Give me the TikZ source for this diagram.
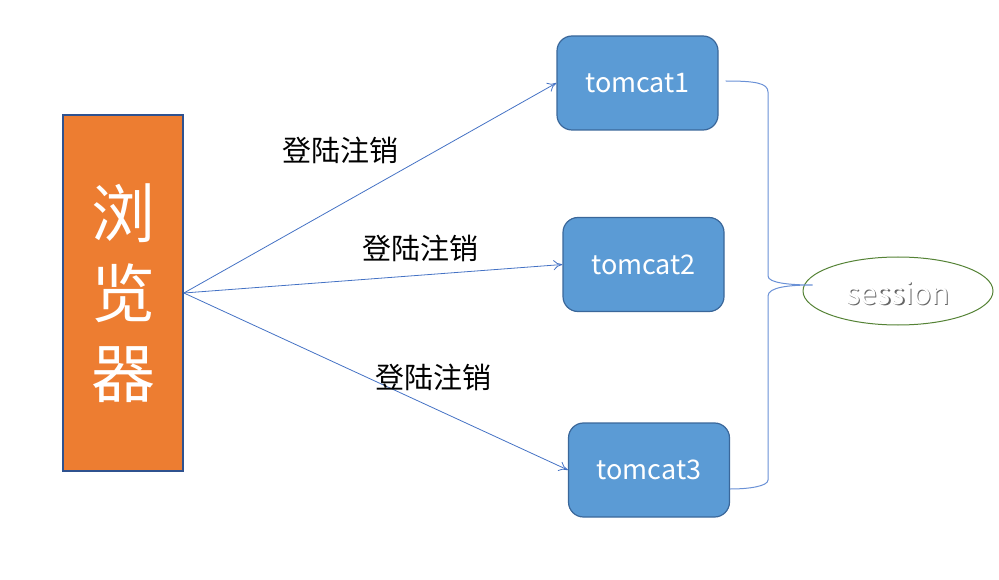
\documentclass[tikz,border=0pt]{standalone}
\usepackage{fontspec}
\setmainfont{Noto Sans CJK SC}
\usetikzlibrary{shapes.geometric, arrows.meta}

\definecolor{boxorange}{HTML}{ED7D31}
\definecolor{boxblue}{HTML}{5B9BD5}
\definecolor{edgeblue}{HTML}{3A679A}
\definecolor{darkblue}{HTML}{2F528F}
\definecolor{linkblue}{HTML}{4472C4}
\definecolor{bracketblue}{HTML}{6A91D6}
\definecolor{ringgreen}{HTML}{548235}

\tikzset{
	server/.style={draw=edgeblue, line width=1.2pt, fill=boxblue, rounded corners=15pt,
		minimum width=161pt, minimum height=94pt, text=white, font=\fontsize{27}{30}\selectfont},
	link/.style={draw=linkblue, line width=0.8pt, -{To[length=9pt,width=10pt]}},
	caption/.style={font=\fontsize{29}{32}\selectfont, text=black}
}

\begin{document}
\begin{tikzpicture}[x=1pt, y=-1pt]
	\useasboundingbox (0, 0) rectangle (999, 580);

	% browser column
	\node[draw=darkblue, line width=1.8pt, fill=boxorange, minimum width=120pt, minimum height=356pt,
		text=white, align=center, font=\fontsize{64}{80}\selectfont] (browser) at (123, 293) {浏\\览\\器};

	% servers
	\node[server] (tomcat1) at (637.5, 83) {tomcat1};
	\node[server] (tomcat2) at (643.5, 264.5) {tomcat2};
	\node[server] (tomcat3) at (649, 470) {tomcat3};

	\draw[link] (browser.east) -- (tomcat1.west);
	\draw[link] (browser.east) -- (tomcat2.west);
	\draw[link] (browser.east) -- (tomcat3.west);

	\node[caption] (login1) at (340, 150) {登陆注销};
	\node[caption] (login2) at (420, 248) {登陆注销};
	\node[caption] (login3) at (433, 377) {登陆注销};

	% shared session
	\node[draw=ringgreen, line width=1pt, ellipse, minimum width=190pt, minimum height=68pt] (store) at (898, 291) {};
	\node[text=black!60, font=\fontsize{30}{34}\selectfont] (storeshade) at (899.5, 294.5) {session};
	\node[text=white, font=\fontsize{30}{34}\selectfont] (storetext) at (898, 293) {session};

	\coordinate (tip) at ([xshift=10pt, yshift=6pt]store.west);
	\draw[bracketblue, line width=1pt]
		([xshift=7pt, yshift=2pt]tomcat1.east) .. controls (755, 81) and (768, 83) .. (768, 92)
		-- (768, 276) .. controls (768, 283) and (790, 285) .. (tip)
		.. controls (790, 285) and (768, 287) .. (768, 296)
		-- (768, 480) .. controls (768, 486) and (750, 489) .. ([yshift=-19pt]tomcat3.east);
\end{tikzpicture}
\end{document}
